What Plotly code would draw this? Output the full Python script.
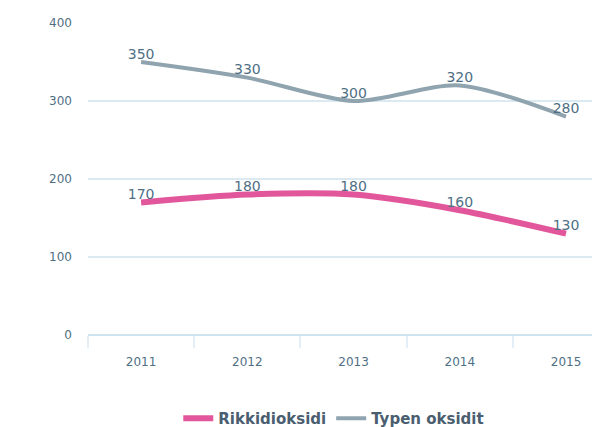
import plotly.graph_objects as go

years = ["2011", "2012", "2013", "2014", "2015"]
rikkidioksidi = [170, 180, 180, 160, 130]
typen_oksidit = [350, 330, 300, 320, 280]
y_ticks = [0, 100, 200, 300, 400]

label_color = "#4f6f85"

fig = go.Figure()

for name, values, color, width in [
    ("Rikkidioksidi", rikkidioksidi, "#e2579b", 6),
    ("Typen oksidit", typen_oksidit, "#8fa4ae", 4),
]:
    fig.add_trace(
        go.Scatter(
            x=years,
            y=values,
            mode="lines+text",
            name=name,
            line=dict(color=color, width=width, shape="spline", smoothing=0.8),
            text=[str(v) for v in values],
            textposition="top center",
            textfont=dict(family="DejaVu Sans", size=14, color=label_color),
            cliponaxis=False,
        )
    )

# the page body adds an 8px offset, so the figure is sized to the rest of the window
fig.update_layout(
    width=592,
    height=419,
    margin=dict(l=80, r=0, t=15, b=92, autoexpand=False),
    paper_bgcolor="white",
    plot_bgcolor="white",
    font=dict(family="DejaVu Sans", size=12, color=label_color),
    showlegend=True,
    legend=dict(
        orientation="h",
        x=0.48,
        xanchor="center",
        yref="container",
        y=0.02,
        yanchor="middle",
        font=dict(family="DejaVu Sans", size=15, color="#4a5e70", weight="bold"),
    ),
)

fig.update_xaxes(
    type="category",
    range=[-0.5, 4.32],
    automargin=False,
    showgrid=False,
    showline=False,
    zeroline=False,
    ticks="outside",
    tickson="boundaries",
    ticklen=12,
    tickcolor="#e3eef6",
    tickwidth=2,
    ticklabelstandoff=18,
    tickfont=dict(size=12, color=label_color),
)

fig.update_yaxes(
    range=[0, 400],
    tickvals=y_ticks,
    automargin=False,
    showgrid=True,
    gridcolor="#dbe9f3",
    gridwidth=1.5,
    zeroline=True,
    zerolinecolor="#cfe2ef",
    zerolinewidth=2,
    showline=False,
    ticks="",
    ticklabelstandoff=15,
    tickfont=dict(size=12, color=label_color),
)

fig.write_html("out.html")
